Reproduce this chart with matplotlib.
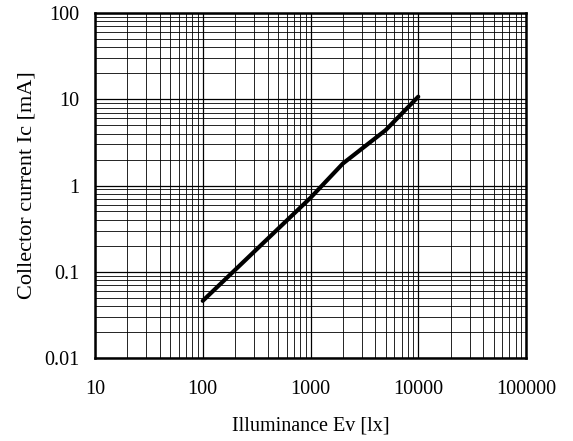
import matplotlib.pyplot as plt
from matplotlib.ticker import LogLocator, FixedLocator, NullFormatter

plt.rcParams['font.family'] = ['Liberation Serif', 'DejaVu Serif']

illuminance = [100, 1000, 2000, 5000, 10000]
current = [0.046, 0.72, 1.8, 4.4, 10.7]

xticks = [10, 100, 1000, 10000, 100000]
xlabels = ["10", "100", "1000", "10000", "100000"]
yticks = [0.01, 0.1, 1, 10, 100]
ylabels = ["0.01", "0.1", "1", "10", "100"]

fig = plt.figure(figsize=(5.73, 4.41), dpi=100)
ax = fig.add_axes([95 / 573, 1 - 358 / 441, 431 / 573, 345 / 441])

ax.set_xscale("log")
ax.set_yscale("log")
ax.set_xlim(10, 100000)
ax.set_ylim(0.01, 100)

ax.plot(illuminance, current, color="black", linewidth=3, solid_capstyle="round")

ax.xaxis.set_major_locator(FixedLocator(xticks))
ax.set_xticklabels(xlabels)
ax.yaxis.set_major_locator(FixedLocator(yticks))
ax.set_yticklabels(ylabels)
ax.xaxis.set_minor_locator(LogLocator(base=10, subs=range(2, 10), numticks=20))
ax.yaxis.set_minor_locator(LogLocator(base=10, subs=range(2, 10), numticks=20))
ax.xaxis.set_minor_formatter(NullFormatter())
ax.yaxis.set_minor_formatter(NullFormatter())

ax.grid(True, which="major", color="black", linewidth=0.9)
ax.grid(True, which="minor", color="black", linewidth=0.6)
ax.tick_params(which="both", length=0, labelsize=14.5)
ax.tick_params(axis="x", pad=16)
ax.tick_params(axis="y", pad=11)

for s in ax.spines.values():
    s.set_linewidth(1.8)

ax.set_xlabel("Illuminance Ev [lx]", fontsize=14.5, labelpad=12.5)
ax.set_ylabel("Collector current Ic [mA]", fontsize=16, labelpad=5.5)

fig.savefig("out.png", dpi=100)
